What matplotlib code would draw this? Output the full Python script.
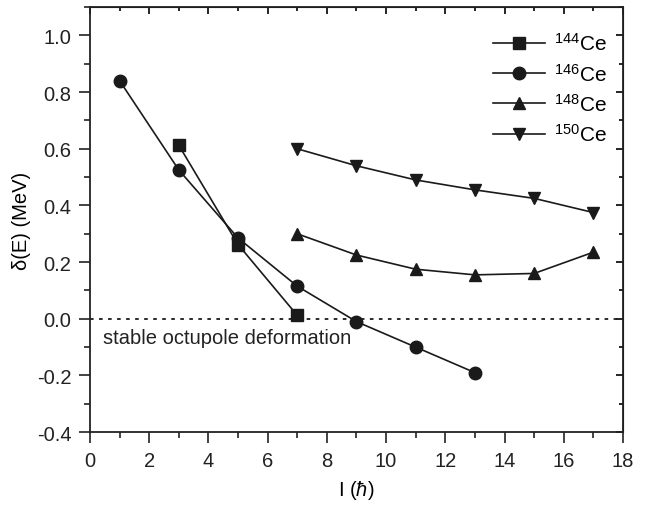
import matplotlib
matplotlib.use("Agg")
import matplotlib.pyplot as plt
from matplotlib.ticker import MultipleLocator

plt.rcParams['font.family'] = ['Liberation Sans', 'DejaVu Sans']
plt.rcParams['mathtext.fontset'] = 'custom'
plt.rcParams['mathtext.rm'] = 'Liberation Sans'
plt.rcParams['mathtext.it'] = 'Liberation Sans:italic'

# data
I_144 = [3, 5, 7]
dE_144 = [0.612, 0.262, 0.012]
I_146 = [1, 3, 5, 7, 9, 11, 13]
dE_146 = [0.840, 0.525, 0.285, 0.115, -0.010, -0.100, -0.190]
I_148 = [7, 9, 11, 13, 15, 17]
dE_148 = [0.300, 0.225, 0.175, 0.155, 0.160, 0.235]
I_150 = [7, 9, 11, 13, 15, 17]
dE_150 = [0.600, 0.540, 0.490, 0.455, 0.425, 0.375]
y_ticks = [-0.4, -0.2, 0.0, 0.2, 0.4, 0.6, 0.8, 1.0]

series = [
    (I_144, dE_144, 's', r'$^{144}$Ce'),
    (I_146, dE_146, 'o', r'$^{146}$Ce'),
    (I_148, dE_148, '^', r'$^{148}$Ce'),
    (I_150, dE_150, 'v', r'$^{150}$Ce'),
]
fs = 14.5

fig = plt.figure(figsize=(6.62, 5.06), dpi=100)
ax = fig.add_axes([0.136, 0.144, 0.805, 0.840])

for x, y, m, lab in series:
    ax.plot(x, y, color='#1a1a1a', marker=m, markersize=9, linewidth=1.2, label=lab)

ax.axhline(0, color='#1a1a1a', linestyle=(0, (2, 3)), linewidth=1.3)
ax.text(0.45, -0.065, 'stable octupole deformation', fontsize=fs, va='center', ha='left', color='#222222')

ax.set_xlim(0, 18)
ax.set_ylim(-0.4, 1.1)
ax.xaxis.set_major_locator(MultipleLocator(2))
ax.xaxis.set_minor_locator(MultipleLocator(1))
ax.yaxis.set_minor_locator(MultipleLocator(0.1))
ax.set_yticks(y_ticks)
ax.set_yticklabels([f'{v:.1f}' for v in y_ticks])

ax.tick_params(which='both', direction='out', labelsize=fs, width=1.2, colors='#222222')
ax.tick_params(which='major', length=8, pad=5.5)
ax.tick_params(which='minor', length=4.5)
for sp in ax.spines.values():
    sp.set_linewidth(1.3)
    sp.set_color('#222222')

# inward ticks on top and right, no labels
top = ax.secondary_xaxis('top')
top.xaxis.set_major_locator(MultipleLocator(2))
top.xaxis.set_minor_locator(MultipleLocator(1))
top.tick_params(which='both', direction='in', labeltop=False, width=1.2)
top.tick_params(which='major', length=5)
top.tick_params(which='minor', length=3)
right = ax.secondary_yaxis('right')
right.set_yticks(y_ticks)
right.yaxis.set_minor_locator(MultipleLocator(0.1))
right.tick_params(which='both', direction='in', labelright=False, width=1.2)
right.tick_params(which='major', length=5)
right.tick_params(which='minor', length=3)

ax.set_xlabel(r'I ($\hbar$)', fontsize=fs, labelpad=6)
ax.set_ylabel('δ(E) (MeV)', fontsize=fs, labelpad=4)

ax.legend(loc='upper right', bbox_to_anchor=(1.005, 0.985), frameon=False, fontsize=15,
          handlelength=2.5, labelspacing=0.4, handletextpad=0.45)

fig.savefig('out.png', dpi=100)
